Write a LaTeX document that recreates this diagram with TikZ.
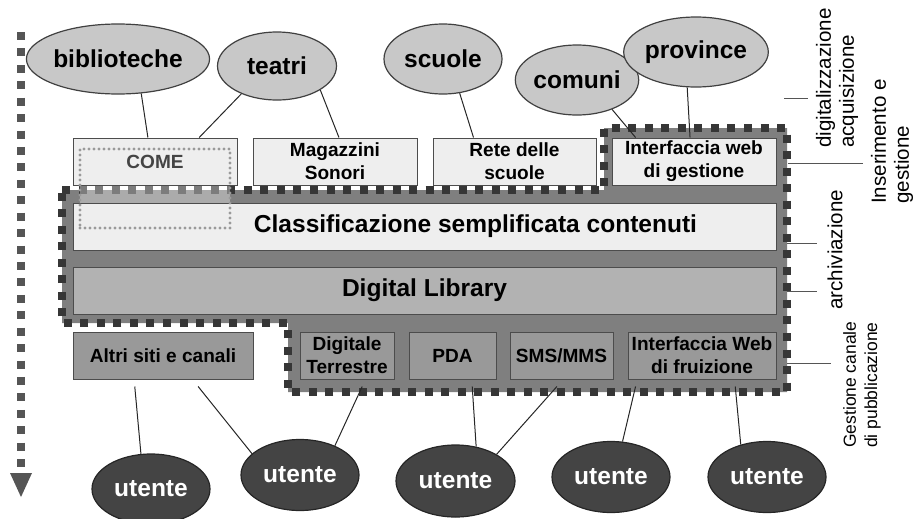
\documentclass[tikz,border=0pt]{standalone}
\usepackage{fontspec}
\setmainfont{Liberation Sans}
\usetikzlibrary{shapes.geometric,calc}
\definecolor{ellL}{HTML}{C8C8C8}
\definecolor{ellD}{HTML}{444444}
\definecolor{boxL}{HTML}{EEEEEE}
\definecolor{boxM}{HTML}{B2B2B2}
\definecolor{boxD}{HTML}{999999}
\definecolor{regG}{HTML}{7F7F7F}
\definecolor{dashC}{HTML}{363636}
\definecolor{arrC}{HTML}{555555}
\definecolor{dotC}{HTML}{9A9A9A}
\definecolor{comeC}{HTML}{444444}
\newcommand\bigfnt{\fontsize{18.4}{22}\selectfont\bfseries}
\newcommand\boxfnt{\fontsize{14.3}{17.25}\selectfont\bfseries}
\newcommand\labfnt{\fontsize{15.4}{17.25}\selectfont}
\newcommand\labsmall{\fontsize{13.1}{16}\selectfont}
\begin{document}
\begin{tikzpicture}[x=0.75pt,y=-0.75pt,
  esize/.style 2 args={minimum width=#1*0.75pt, minimum height=#2*0.75pt},
  lell/.style={ellipse, draw=black!75, line width=0.9pt, fill=ellL, inner sep=0pt, font=\bigfnt},
  uell/.style={ellipse, draw=black!85, line width=0.9pt, fill=ellD, text=white, inner sep=0pt, font=\bigfnt},
  box/.style={rectangle, draw=black!70, line width=0.75pt, inner sep=0pt, align=center, font=\boxfnt},
  conn/.style={draw=black!85, line width=0.75pt},
  rconn/.style={draw=arrC, line width=0.75pt},
  rlab/.style={rotate=90, anchor=west, inner sep=0pt, align=left}]
\path[use as bounding box] (0,0) rectangle (913,518);

% left flow arrow
\draw[arrC, line width=6pt, dash pattern=on 6pt off 6.32pt] (21,32) -- (21,474);
\fill[arrC] (10,473) -- (32,473) -- (21,497) -- cycle;

% grey region
\fill[regG] (62,190) -- (604,190) -- (604,128) -- (787,128) -- (787,392) -- (288,392) -- (288,323) -- (62,323) -- cycle;
\draw[dashC, line width=6pt, dash pattern=on 6pt off 6.4pt] (62,190) -- (604,190) -- (604,128) -- (787,128) -- (787,392) -- (288,392) -- (288,323) -- (62,323) -- cycle;

% ellipses top
\node[lell, esize={153}{70}] (bib) at (118,59) {biblioteche};
\node[lell, esize={119}{68}] (teatri) at (277,66) {teatri};
\node[lell, esize={118}{70}] (scuole) at (443,59) {scuole};
\node[lell, esize={119}{70}] (comuni) at (577,80) {comuni};
\node[lell, esize={118}{70}] (province) at (696,52) {province};

% top boxes
\node[box, fill=boxL, esize={164}{47}, text=comeC] (come) at (155,161.5) {COME};
\node[box, fill=boxL, esize={164}{47}] (mag) at (335,161.5) {Magazzini\\Sonori};
\node[box, fill=boxL, esize={163}{47}] (rete) at (514.5,161.5) {Rete delle\\scuole};
\node[box, fill=boxL, esize={164}{47}] (intg) at (694,161.5) {Interfaccia web\\di gestione};

% middle boxes
\node[box, fill=boxL, esize={703}{47}] (cls) at (424.5,226.5) {};
\node[font=\bigfnt, inner sep=0pt] (clstxt) at ($(cls.center)+(51,0)$) {Classificazione semplificata contenuti};
\node[box, fill=boxM, esize={703}{47}, font=\bigfnt] (dl) at (424.5,290.5) {Digital Library};

% bottom boxes
\node[box, fill=boxD, esize={180}{47}] (altri) at (163,355.5) {Altri siti e canali};
\node[box, fill=boxD, esize={94}{47}] (dt) at (347,355.5) {Digitale\\Terrestre};
\node[box, fill=boxD, esize={87}{47}] (pda) at (452.5,355.5) {PDA};
\node[box, fill=boxD, esize={103}{47}] (sms) at (561.5,355.5) {SMS/MMS};
\node[box, fill=boxD, esize={148}{47}] (intf) at (702,355.5) {Interfaccia Web\\di fruizione};

% users
\node[uell, esize={118}{70}] (u1) at (151,489) {utente};
\node[uell, esize={118}{71}] (u2) at (300,475) {utente};
\node[uell, esize={119}{72}] (u3) at (455.5,481) {utente};
\node[uell, esize={118}{71}] (u4) at (611,477) {utente};
\node[uell, esize={118}{71}] (u5) at (767,477) {utente};

% COME grouping (dotted), lightening the part over the grey region
\fill[white, fill opacity=0.35] (80,186) rectangle (230,203);
\node[draw=dotC, line width=2.4pt, line cap=round, dash pattern=on 0pt off 3.75pt,
      esize={150}{79}, inner sep=0pt] (comegrp) at (155,188.5) {};

% connectors top
\draw[conn] (bib.-56) -- ($(come.north west)!0.457!(come.north east)$);
\draw[conn] (teatri.218) -- ($(come.north west)!0.768!(come.north east)$);
\draw[conn] (teatri.-29.5) -- ($(mag.north west)!0.524!(mag.north east)$);
\draw[conn] (scuole.-64) -- ($(rete.north west)!0.25!(rete.north east)$);
\draw[conn] (comuni.-40) -- ($(intg.north west)!0.146!(intg.north east)$);
\draw[conn] (province.-104) -- ($(intg.north west)!0.476!(intg.north east)$);

% connectors bottom
\draw[conn] ($(altri.south west)!0.344!(altri.south east)+(0,7)$) -- (u1.106);
\draw[conn] ($(altri.south west)!0.694!(altri.south east)+(0,7)$) -- (u2.156);
\draw[conn] ($(dt.south west)!0.66!(dt.south east)+(0,7)$) -- (u2.40);
\draw[conn] ($(pda.south west)!0.724!(pda.south east)+(0,7)$) -- (u3.59);
\draw[conn] ($(sms.south west)!0.456!(sms.south east)+(0,7)$) -- (u3.33);
\draw[conn] ($(intf.south west)!0.054!(intf.south east)+(0,7)$) -- (u4.72);
\draw[conn] ($(intf.south west)!0.723!(intf.south east)+(0,7)$) -- (u5.129);

% right labels
\node[rlab, font=\labfnt] (ldig) at (837,148) {digitalizzazione\\acquisizione};
\node[rlab, font=\labfnt] (lins) at (892,204) {Inserimento e\\gestione};
\node[rlab, font=\labfnt] (larc) at (835,310) {archiviazione};
\node[rlab, font=\labsmall] (lgest) at (862,448) {Gestione canale\\di pubblicazione};

\coordinate (a1) at (784,98);  \coordinate (b1) at (808,98);
\coordinate (a2) at (788,163); \coordinate (b2) at (863,163);
\coordinate (a3) at (787,243); \coordinate (b3) at (817,243);
\coordinate (a4) at (787,291); \coordinate (b4) at (817,291);
\coordinate (a5) at (787,363); \coordinate (b5) at (831,363);
\draw[rconn] (a1) -- (b1);
\draw[rconn] (a2) -- (b2);
\draw[rconn] (a3) -- (b3);
\draw[rconn] (a4) -- (b4);
\draw[rconn] (a5) -- (b5);
\end{tikzpicture}
\end{document}
